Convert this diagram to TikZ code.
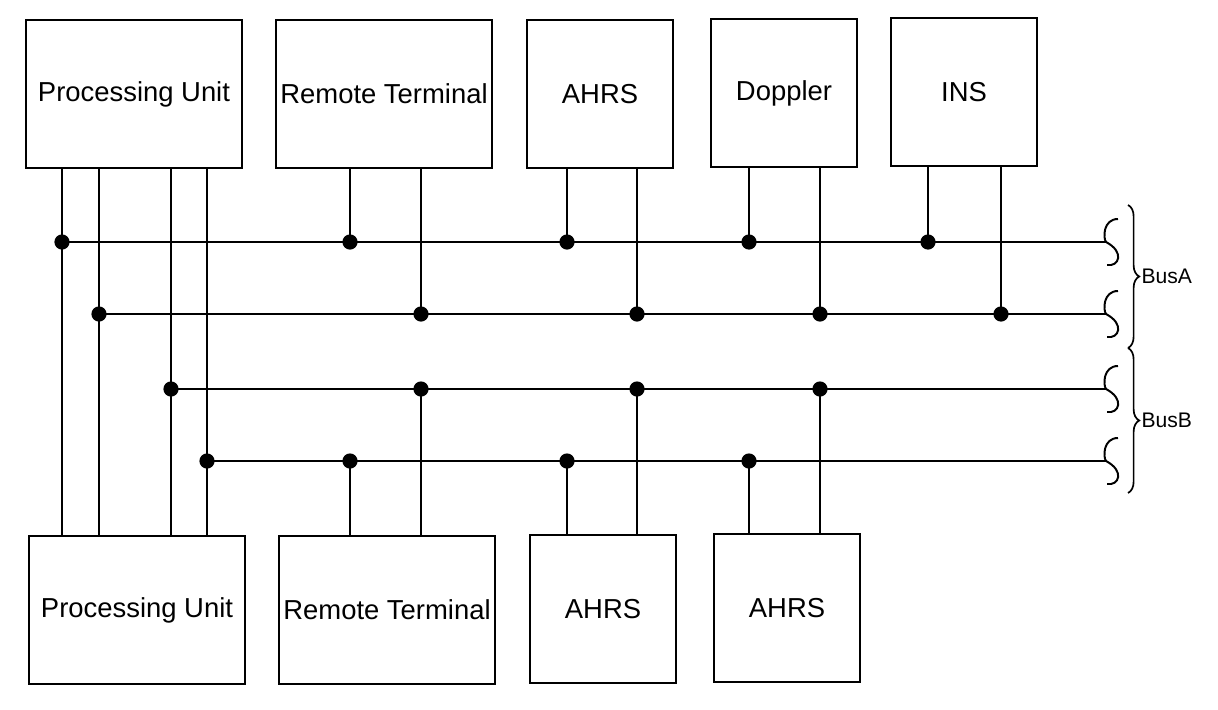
\documentclass[tikz,border=0pt]{standalone}
\usepackage{fontspec}
\setmainfont{Liberation Sans}
\usetikzlibrary{decorations.pathreplacing}
\tikzset{
  unit/.style={draw, line width=1.4pt, minimum height=3.7cm, inner sep=0pt,
    font=\fontsize{19.5}{22}\selectfont},
  wideunit/.style={unit, minimum width=5.4cm},
  narrowunit/.style={unit, minimum width=3.65cm},
  tap/.style={circle, fill, inner sep=0pt, minimum size=0.38cm},
  busend/.pic={\draw (12,-23) .. controls (-3,-23) and (-3,-4) .. (0,0)
      .. controls (19,10) and (13,25) .. (1,23);},
}
\begin{document}
\begin{tikzpicture}[x=0.025cm, y=-0.025cm, line width=1.4pt]
  \useasboundingbox (0,0) rectangle (1218,710);
  % units on top
  \node[wideunit]   (pu1)  at (134,94)  {Processing Unit};
  \node[wideunit]   (rt1)  at (384,94)  {Remote Terminal};
  \node[narrowunit] (ahrs1) at (600,94) {AHRS};
  \node[narrowunit] (dop)  at (784,93)  {Doppler};
  \node[narrowunit] (ins)  at (964,92)  {INS};
  % units below
  \node[wideunit]   (pu2)  at (137,610) {Processing Unit};
  \node[wideunit]   (rt2)  at (387,610) {Remote Terminal};
  \node[narrowunit] (ahrs2) at (603,609) {AHRS};
  \node[narrowunit] (ahrs3) at (787,608) {AHRS};
  % bus ends
  \coordinate (a1) at (62,242);   \coordinate (a1e) at (1106,242);
  \coordinate (a2) at (99,314);   \coordinate (a2e) at (1106,314);
  \coordinate (b1) at (171,389);  \coordinate (b1e) at (1106,389);
  \coordinate (b2) at (207,461);  \coordinate (b2e) at (1106,461);
  \draw (a1) -- (a1e) pic {busend};
  \draw (a2) -- (a2e) pic {busend};
  \draw (b1) -- (b1e) pic {busend};
  \draw (b2) -- (b2e) pic {busend};
  % processing unit lines
  \foreach \b in {a1,a2,b1,b2}
    \draw (pu1.south -| \b) -- (pu2.north -| \b);
  % taps on the buses
  \foreach \u/\s/\x/\b in {rt1/south/350/a1, rt1/south/421/a2,
      ahrs1/south/567/a1, ahrs1/south/637/a2,
      dop/south/749/a1, dop/south/820/a2, ins/south/928/a1, ins/south/1001/a2,
      rt2/north/350/b2, rt2/north/421/b1, ahrs2/north/567/b2, ahrs2/north/637/b1,
      ahrs3/north/749/b2, ahrs3/north/820/b1} {
    \coordinate (t) at (\x,0);
    \draw (\u.\s -| t) -- (t |- \b) node[tap] {};
  }
  \foreach \b in {a1,a2,b1,b2}
    \node[tap] at (\b) {};
  % bus labels
  \draw[line width=1.2pt, decorate, decoration={brace, amplitude=8pt}] (1128,205) -- (1128,348)
    node[midway, right=9pt, inner sep=0pt, font=\fontsize{15}{18}\selectfont] (busa) {BusA};
  \draw[line width=1.2pt, decorate, decoration={brace, amplitude=8pt}] (1128,348) -- (1128,493)
    node[midway, right=9pt, inner sep=0pt, font=\fontsize{15}{18}\selectfont] (busb) {BusB};
\end{tikzpicture}
\end{document}
